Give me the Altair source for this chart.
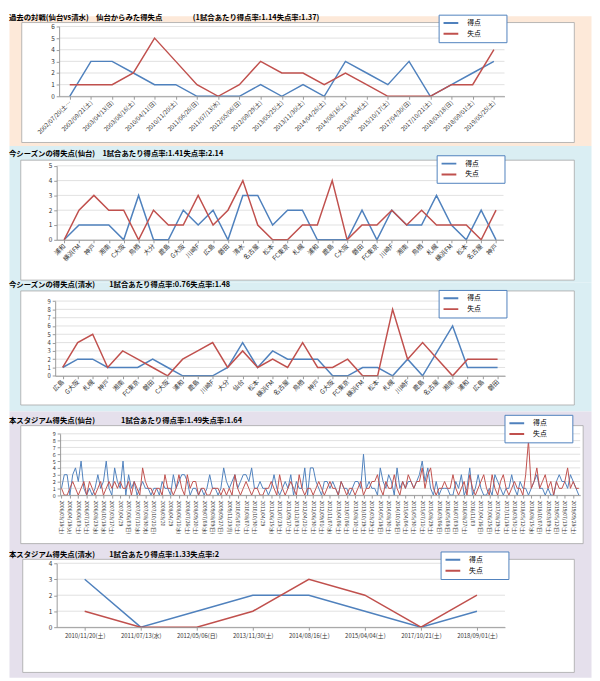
import json
import altair as alt
import pandas as pd

FONT = "Noto Sans CJK JP"
BLUE = "#4F81BD"
RED = "#C0504D"

# ---------------- data ----------------
p1_dates = ["2002/07/20(土…", "2002/09/21(土)", "2003/04/13(日)", "2003/08/16(土)", "2010/04/11(日)",
            "2010/11/20(土)", "2011/06/26(日)", "2011/07/13(水)", "2012/05/06(日)", "2012/09/29(土)",
            "2013/05/25(土)", "2013/11/30(土)", "2014/04/26(土)", "2014/08/16(土)", "2015/04/04(土)",
            "2015/10/17(土)", "2017/04/30(日)", "2017/10/21(土)", "2018/03/18(日)", "2018/09/01(土)",
            "2019/05/25(土)"]
p1_gf = [0, 3, 3, 2, 1, 1, 0, 0, 0, 1, 0, 1, 0, 3, 2, 1, 3, 0, 1, 2, 3]
p1_ga = [1, 1, 1, 2, 5, 3, 1, 0, 1, 3, 2, 2, 1, 2, 1, 0, 0, 0, 1, 1, 4]

p2_teams = ["浦和", "横浜FM", "神戸", "湘南", "C大阪", "鳥栖", "大分", "鹿島", "G大阪", "川崎F",
            "広島", "磐田", "清水", "名古屋", "松本", "FC東京", "札幌", "浦和", "鹿島", "C大阪",
            "磐田", "FC東京", "川崎F", "湘南", "鳥栖", "札幌", "横浜FM", "松本", "名古屋", "神戸"]
p2_gf = [0, 1, 1, 1, 0, 3, 0, 0, 2, 1, 2, 0, 3, 3, 1, 2, 2, 0, 0, 0, 2, 0, 2, 1, 1, 3, 1, 0, 2, 0]
p2_ga = [0, 2, 3, 2, 2, 0, 2, 1, 1, 3, 1, 2, 4, 1, 0, 0, 1, 1, 4, 0, 1, 1, 2, 1, 2, 1, 1, 1, 0, 2]

p3_teams = ["広島", "G大阪", "札幌", "神戸", "湘南", "FC東京", "磐田", "C大阪", "浦和", "鹿島",
            "川崎F", "大分", "仙台", "松本", "横浜FM", "名古屋", "鳥栖", "神戸", "G大阪", "FC東京",
            "横浜FM", "松本", "札幌", "川崎F", "鹿島", "名古屋", "湘南", "浦和", "広島", "磐田"]
p3_gf = [1, 2, 2, 1, 1, 1, 2, 1, 0, 0, 0, 1, 4, 1, 3, 2, 2, 2, 0, 0, 1, 1, 0, 2, 0, 3, 6, 1, 1, 1]
p3_ga = [1, 4, 5, 1, 3, 2, 1, 0, 2, 3, 4, 1, 3, 1, 2, 1, 4, 1, 1, 2, 0, 0, 8, 2, 4, 2, 0, 2, 2, 2]

p4_dates = ["2006/03/18(土)", "2006/04/18(火)", "2006/06/03(土)", "2006/07/15(土)", "2006/08/23(水)",
            "2006/10/18(水)", "2007/03/17(土)", "2007/04/29", "2007/06/03(日)", "2007/07/11(水)",
            "2007/08/30(木)", "2007/10/21(日)", "2008/03/20", "2008/04/29", "2008/06/11(水)",
            "2008/07/26(土)", "2008/09/20(土)", "2009/07/08(水)", "2009/08/09(日)", "2009/09/27(日)",
            "2009/11/23(月)", "2010/05/01(土)", "2010/08/07(土)", "2010/10/30(土)", "2011/04/29",
            "2011/06/15(水)", "2011/07/23(土)", "2011/09/17(土)", "2011/12/03(土)", "2012/04/21(土)",
            "2012/06/30(土)", "2012/09/01(土)", "2012/11/07(水)", "2013/04/06(土)", "2013/07/06(土)",
            "2013/08/10(土)", "2013/10/19(土)", "2014/03/29(土)", "2014/05/18(日)", "2014/08/30(土)",
            "2014/10/26(日)", "2015/04/04(土)", "2015/05/30(土)", "2015/07/11(土)", "2015/08/29(土)",
            "2016/03/06(日)", "2016/05/08(日)", "2016/07/03(日)", "2016/08/27(土)", "2016/11/03",
            "2017/04/16(日)", "2017/06/25(日)", "2017/08/19(土)", "2017/11/18(土)", "2018/03/31(土)",
            "2018/05/12(土)", "2018/08/15(水)", "2018/10/07(日)", "2019/03/09(土)", "2019/05/12(日)",
            "2019/07/13(土)", "2019/09/28(土)"]
p4_gf = [1, 3, 3, 0, 3, 4, 2, 5, 1, 0,
         1, 0, 1, 3, 1, 2, 5, 1, 0, 4,
         2, 1, 5, 0, 3, 1, 2, 0, 1, 2,
         1, 1, 0, 1, 1, 0, 2, 1, 1, 0,
         3, 1, 2, 3, 3, 2, 0, 1, 1, 0,
         1, 0, 1, 3, 1, 1, 0, 1, 4, 2,
         1, 2, 3, 1, 2, 3, 3, 2, 4, 1,
         1, 2, 1, 1, 0, 1, 3, 1, 0, 1,
         2, 1, 3, 0, 2, 1, 1, 4, 0, 4,
         4, 2, 1, 0, 2, 2, 1, 2, 1, 0,
         2, 1, 1, 0, 1, 2, 2, 1, 6, 1,
         2, 1, 1, 0, 4, 2, 1, 3, 2, 0,
         4, 1, 2, 1, 2, 2, 1, 2, 3, 5,
         2, 4, 1, 0, 2, 0, 1, 1, 1, 0,
         0, 2, 1, 3, 0, 1, 4, 0, 1, 3,
         1, 0, 0, 1, 0, 3, 2, 1, 0, 1,
         1, 3, 1, 0, 2, 1, 1, 0, 1, 2,
         3, 1, 1, 0, 1, 0, 0, 2, 3, 2,
         2, 1, 3, 2, 1, 0]
p4_ga = [1, 0, 0, 1, 2, 1, 0, 1, 2, 0,
         2, 1, 0, 1, 2, 0, 1, 2, 1, 2,
         1, 2, 1, 1, 2, 0, 2, 1, 0, 4,
         2, 1, 1, 0, 1, 1, 0, 3, 1, 1,
         0, 1, 3, 1, 0, 3, 1, 2, 2, 0,
         1, 1, 0, 0, 1, 1, 1, 0, 1, 0,
         1, 0, 3, 1, 0, 1, 2, 1, 0, 1,
         1, 0, 0, 1, 1, 2, 1, 0, 3, 1,
         0, 1, 2, 1, 0, 3, 1, 0, 1, 1,
         0, 1, 2, 1, 0, 1, 2, 1, 1, 0,
         2, 1, 0, 1, 1, 0, 1, 2, 0, 1,
         1, 2, 2, 3, 1, 0, 2, 1, 1, 3,
         1, 0, 2, 1, 3, 2, 1, 2, 2, 4,
         1, 3, 4, 1, 0, 1, 1, 2, 1, 1,
         3, 1, 0, 1, 2, 0, 3, 1, 0, 1,
         2, 3, 1, 0, 3, 1, 0, 2, 3, 1,
         0, 1, 2, 1, 1, 0, 3, 8, 1, 2,
         4, 1, 2, 3, 1, 2, 0, 2, 1, 1,
         2, 4, 1, 2, 1, 1]

p5_dates = ["2010/11/20(土)", "2011/07/13(水)", "2012/05/06(日)", "2013/11/30(土)",
            "2014/08/16(土)", "2015/04/04(土)", "2017/10/21(土)", "2018/09/01(土)"]
p5_gf = [3, 0, 1, 2, 2, 1, 0, 1]
p5_ga = [1, 0, 0, 1, 3, 2, 0, 2]

titles = [
    ("過去の対戦(仙台vs清水)　仙台からみた得失点", "(1試合あたり得点率:1.14失点率:1.37)"),
    ("今シーズンの得失点(仙台)", "1試合あたり得点率:1.41失点率:2.14"),
    ("今シーズンの得失点(清水)", "1試合あたり得点率:0.76失点率:1.48"),
    ("本スタジアム得失点(仙台)", "1試合あたり得点率:1.49失点率:1.64"),
    ("本スタジアム得失点(清水)", "1試合あたり得点率:1.33失点率:2"),
]
series_names = ["得点", "失点"]

PEACH = "#FDE9D9"
LBLUE = "#DAEEF3"
LAV = "#E5E0EC"
W = 592


def long_df(gf, ga):
    rows = [{"i": i, "series": series_names[0], "value": v} for i, v in enumerate(gf)]
    rows += [{"i": i, "series": series_names[1], "value": v} for i, v in enumerate(ga)]
    return pd.DataFrame(rows)


def panel(df, full_labels, ymax, H, bg, box, xr, yr, leg, ttl, tpos,
          angle, align, baseline, lab_size, sw, ylab_size=6.5):
    shown = [i for i, l in enumerate(full_labels) if l != ""]
    lab_expr = json.dumps(full_labels, ensure_ascii=False) + "[datum.value]"
    dummy = pd.DataFrame({"d": [0]})
    rect = alt.Chart(dummy).mark_rect(fill="white", stroke="#a6a6a6", strokeWidth=0.8).encode(
        x=alt.value(box[0]), x2=alt.value(box[1]), y=alt.value(box[2]), y2=alt.value(box[3]))
    t1 = alt.Chart(dummy).mark_text(align="left", baseline="middle", font=FONT, fontSize=7.5,
                                    fontWeight="bold", color="#000000").encode(
        x=alt.value(tpos[0]), y=alt.value(tpos[2]), text=alt.value(ttl[0]))
    t2 = alt.Chart(dummy).mark_text(align="left", baseline="middle", font=FONT, fontSize=7.5,
                                    fontWeight="bold", color="#000000").encode(
        x=alt.value(tpos[1]), y=alt.value(tpos[2]), text=alt.value(ttl[1]))
    yscale = alt.Scale(domain=[0, ymax], range=list(yr), nice=False, zero=True)
    yaxis = alt.Axis(values=list(range(ymax + 1)), offset=-xr[0], grid=False,
                     domainColor="#9a9a9a", tickColor="#9a9a9a", tickSize=3,
                     labelFont=FONT, labelFontSize=ylab_size, labelColor="#333333",
                     labelOverlap=False, labelFlush=False, labelBound=False,
                     title=None, labelPadding=2, zindex=1)
    grid = alt.Chart(pd.DataFrame({"value": list(range(ymax + 1))})).mark_rule(
        color="#d9d9d9", strokeWidth=0.8).encode(
        y=alt.Y("value:Q", scale=yscale, axis=yaxis), x=alt.value(xr[0]), x2=alt.value(xr[1]))
    lines = alt.Chart(df).mark_line(strokeWidth=sw).encode(
        x=alt.X("i:O", scale=alt.Scale(range=list(xr)),
                axis=alt.Axis(values=shown, labelExpr=lab_expr, labelAngle=angle, labelAlign=align,
                              labelBaseline=baseline, labelFont=FONT, labelFontSize=lab_size,
                              labelColor="#333333", offset=-(H - yr[0]), domainColor="#9a9a9a",
                              tickColor="#9a9a9a", tickSize=3, grid=False, title=None,
                              labelPadding=2, labelOverlap=False, labelLimit=200, zindex=1)),
        y=alt.Y("value:Q", scale=yscale, axis=yaxis),
        color=alt.Color("series:N", scale=alt.Scale(domain=series_names, range=[BLUE, RED]),
                        legend=alt.Legend(orient="none", legendX=leg[0], legendY=leg[1],
                                          title="ああ", titleColor="transparent", titleOrient="right",
                                          titleFontSize=8, titlePadding=6,
                                          fillColor="white", strokeColor="#4F81BD", padding=4,
                                          symbolType="stroke", symbolStrokeWidth=2, symbolSize=225,
                                          labelFont=FONT, labelFontSize=7, labelColor="#000000",
                                          rowPadding=2, labelOffset=8, clipHeight=9)),
        order=alt.Order("i:Q"),
    )
    return alt.layer(rect, t1, t2, grid, lines).properties(
        width=W, height=H, view=alt.ViewBackground(fill=bg, stroke="transparent"))


p4_full = []
for k, d in enumerate(p4_dates):
    p4_full += [d, "", ""]

c1 = panel(long_df(p1_gf, p1_ga), p1_dates, 6, 132, PEACH, (13, 575, 7, 129), (51, 504), (82, 11),
           (437, -1), titles[0], (0, 187, 2.5), -45, "right", "middle", 6, 1.5)
c2 = panel(long_df(p2_gf, p2_ga), p2_teams, 5, 139, LBLUE, (12, 575, 15, 137), (48.5, 503), (96, 20.7),
           (435, 10), titles[1], (0, 95, 9), -45, "right", "middle", 6.5, 1.5)
c3 = panel(long_df(p3_gf, p3_ga), p3_teams, 9, 131, LBLUE, (12, 575, 9, 125), (47, 504.6), (95.3, 19.3),
           (437, 8), titles[2], (0, 102, 3), -45, "right", "middle", 6.5, 1.5, 6)
c4 = panel(long_df(p4_gf, p4_ga), p4_full, 9, 138, LAV, (12, 584, 15, 135), (52, 581), (85.7, 23.3),
           (504, 4), titles[3], (0, 114, 10), 90, "left", "middle", 5, 1, 5.5)
c5 = panel(long_df(p5_gf, p5_ga), p5_dates, 4, 133, LAV, (14, 575, 13, 128), (48.5, 504.5), (82, 17),
           (439, 5), titles[4], (0, 102, 9), 0, "center", "top", 6, 1.5)

chart = alt.vconcat(c1, c2, c3, c4, c5, spacing=0, bounds="flush").resolve_scale(
    color="independent").resolve_legend(color="independent").properties(
    padding=0).configure(font=FONT)

chart.save("out.html", embed_options={"renderer": "svg", "actions": False})
